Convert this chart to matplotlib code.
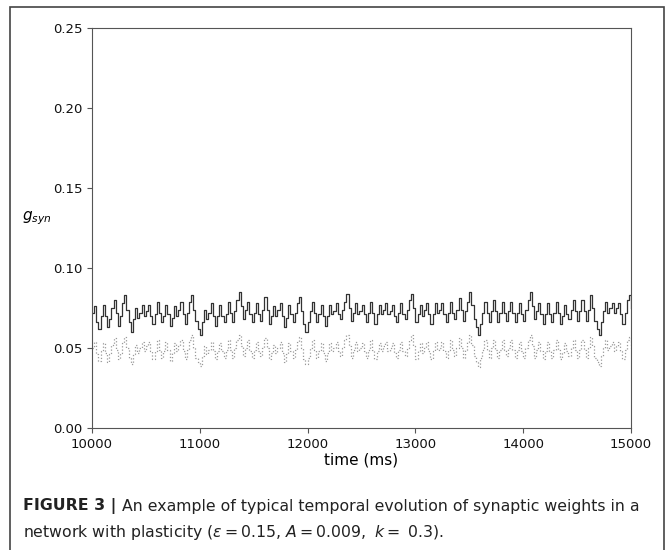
import numpy as np
import matplotlib
matplotlib.use("Agg")
import matplotlib.pyplot as plt
from matplotlib.patches import Rectangle

# sampled every 20 ms from 10000 to 15000 ms
t_start, t_step = 10000, 20

g_exc = [
    0.072, 0.076, 0.066, 0.062, 0.070, 0.077, 0.070, 0.063, 0.068, 0.075,
    0.080, 0.072, 0.064, 0.070, 0.078, 0.083, 0.074, 0.066, 0.060, 0.068,
    0.075, 0.069, 0.072, 0.077, 0.070, 0.073, 0.077, 0.070, 0.065, 0.071,
    0.079, 0.072, 0.066, 0.070, 0.077, 0.071, 0.064, 0.069, 0.076, 0.070,
    0.074, 0.079, 0.071, 0.065, 0.072, 0.079, 0.083, 0.074, 0.067, 0.062,
    0.058, 0.066, 0.074, 0.068, 0.072, 0.078, 0.070, 0.064, 0.070, 0.077,
    0.070, 0.066, 0.071, 0.079, 0.072, 0.066, 0.073, 0.080, 0.085, 0.076,
    0.068, 0.074, 0.079, 0.071, 0.066, 0.072, 0.078, 0.071, 0.067, 0.074,
    0.082, 0.074, 0.065, 0.070, 0.076, 0.070, 0.074, 0.078, 0.070, 0.063,
    0.069, 0.077, 0.071, 0.066, 0.072, 0.078, 0.082, 0.073, 0.065, 0.060,
    0.066, 0.073, 0.079, 0.072, 0.066, 0.071, 0.077, 0.070, 0.064, 0.070,
    0.077, 0.071, 0.073, 0.078, 0.071, 0.068, 0.074, 0.079, 0.084, 0.075,
    0.067, 0.072, 0.078, 0.071, 0.073, 0.077, 0.071, 0.066, 0.072, 0.079,
    0.072, 0.065, 0.071, 0.077, 0.071, 0.074, 0.078, 0.071, 0.073, 0.077,
    0.070, 0.066, 0.072, 0.078, 0.071, 0.068, 0.074, 0.080, 0.084, 0.075,
    0.066, 0.071, 0.077, 0.070, 0.074, 0.078, 0.071, 0.065, 0.071, 0.078,
    0.072, 0.074, 0.078, 0.071, 0.066, 0.072, 0.079, 0.072, 0.068, 0.074,
    0.081, 0.074, 0.067, 0.073, 0.079, 0.085, 0.077, 0.068, 0.063, 0.058,
    0.065, 0.072, 0.079, 0.072, 0.066, 0.073, 0.080, 0.073, 0.066, 0.072,
    0.079, 0.072, 0.067, 0.073, 0.079, 0.072, 0.066, 0.072, 0.078, 0.071,
    0.067, 0.074, 0.080, 0.085, 0.076, 0.068, 0.073, 0.078, 0.071, 0.065,
    0.071, 0.078, 0.071, 0.066, 0.072, 0.079, 0.072, 0.065, 0.070, 0.077,
    0.071, 0.068, 0.074, 0.080, 0.073, 0.067, 0.073, 0.080, 0.073, 0.067,
    0.074, 0.083, 0.075, 0.067, 0.062, 0.058, 0.066, 0.073, 0.079, 0.072,
    0.075, 0.078, 0.072, 0.075, 0.078, 0.071, 0.065, 0.072, 0.080, 0.083,
    0.075,
]

g_inh = [
    0.050, 0.054, 0.046, 0.042, 0.048, 0.053, 0.047, 0.041, 0.046, 0.052,
    0.056, 0.049, 0.043, 0.047, 0.053, 0.057, 0.050, 0.044, 0.040, 0.046,
    0.052, 0.047, 0.050, 0.054, 0.048, 0.051, 0.054, 0.048, 0.043, 0.048,
    0.055, 0.049, 0.044, 0.048, 0.054, 0.049, 0.042, 0.047, 0.053, 0.048,
    0.051, 0.055, 0.048, 0.043, 0.049, 0.055, 0.058, 0.050, 0.044, 0.041,
    0.039, 0.045, 0.051, 0.046, 0.049, 0.054, 0.048, 0.043, 0.048, 0.053,
    0.048, 0.044, 0.049, 0.055, 0.049, 0.044, 0.050, 0.055, 0.058, 0.051,
    0.045, 0.050, 0.055, 0.048, 0.044, 0.049, 0.054, 0.048, 0.045, 0.050,
    0.056, 0.050, 0.043, 0.047, 0.052, 0.047, 0.050, 0.054, 0.047, 0.041,
    0.046, 0.053, 0.048, 0.044, 0.049, 0.054, 0.057, 0.050, 0.043, 0.040,
    0.044, 0.050, 0.055, 0.049, 0.044, 0.048, 0.053, 0.047, 0.042, 0.047,
    0.053, 0.048, 0.050, 0.054, 0.048, 0.045, 0.050, 0.055, 0.058, 0.051,
    0.044, 0.049, 0.054, 0.048, 0.050, 0.053, 0.048, 0.044, 0.049, 0.055,
    0.049, 0.043, 0.048, 0.053, 0.048, 0.051, 0.054, 0.048, 0.050, 0.053,
    0.047, 0.044, 0.049, 0.054, 0.048, 0.045, 0.050, 0.055, 0.058, 0.051,
    0.043, 0.048, 0.053, 0.047, 0.050, 0.054, 0.048, 0.043, 0.048, 0.054,
    0.049, 0.050, 0.054, 0.048, 0.044, 0.049, 0.055, 0.049, 0.045, 0.050,
    0.056, 0.050, 0.044, 0.049, 0.054, 0.058, 0.052, 0.045, 0.041, 0.038,
    0.044, 0.049, 0.055, 0.049, 0.044, 0.050, 0.055, 0.049, 0.044, 0.049,
    0.055, 0.049, 0.045, 0.050, 0.055, 0.049, 0.044, 0.049, 0.054, 0.048,
    0.044, 0.050, 0.055, 0.058, 0.051, 0.044, 0.049, 0.054, 0.048, 0.043,
    0.048, 0.054, 0.048, 0.044, 0.049, 0.055, 0.049, 0.043, 0.047, 0.053,
    0.048, 0.045, 0.050, 0.055, 0.049, 0.044, 0.049, 0.055, 0.049, 0.044,
    0.050, 0.057, 0.051, 0.044, 0.041, 0.039, 0.045, 0.050, 0.055, 0.049,
    0.051, 0.054, 0.048, 0.051, 0.054, 0.048, 0.043, 0.049, 0.055, 0.057,
    0.050,
]

x_ticks = [10000, 11000, 12000, 13000, 14000, 15000]
y_ticks = [0.00, 0.05, 0.10, 0.15, 0.20, 0.25]

cap_bold = "FIGURE 3 |"
cap_line1 = "An example of typical temporal evolution of synaptic weights in a"
cap_line2 = r"network with plasticity ($\varepsilon = 0.15$, $A = 0.009,\ k =\ 0.3$)."

t = t_start + t_step * np.arange(len(g_exc))

W, H = 666, 550
fig = plt.figure(figsize=(W / 100, H / 100), dpi=100)
ax = fig.add_axes([92 / W, 1 - 428 / H, 539 / W, 400 / H])

ax.plot(t, g_exc, drawstyle="steps-post", color="#333333", lw=0.9)
ax.plot(t, g_inh, drawstyle="steps-post", color="#999999", lw=0.9, ls=":")

ax.set_xlim(10000, 15000)
ax.set_ylim(0, 0.25)
ax.set_xticks(x_ticks)
ax.set_yticks(y_ticks)
ax.set_yticklabels([f"{v:.2f}" for v in y_ticks])
ax.tick_params(labelsize=9.5, colors="#555555", labelcolor="#111111")
for s in ax.spines.values():
    s.set_color("#555555")
ax.set_xlabel("time (ms)", fontsize=11, labelpad=1)
fig.text(37 / W, 1 - 218 / H, r"$g_{syn}$", fontsize=11,
         ha="center", va="center")

# frame around figure + caption
fig.add_artist(Rectangle((10 / W, -0.05), 654 / W, 1.05 - 7 / H,
                         transform=fig.transFigure, fill=False,
                         edgecolor="#444444", lw=1.2, clip_on=False))

# caption: size fitted so the first line spans x=23..642 px
fs = 11
cap_kw = dict(family="DejaVu Sans", color="#222222", va="center")
r = fig.canvas.get_renderer()
tb = fig.text(23 / W, 1 - 506 / H, cap_bold + " ", fontsize=fs, weight="bold", **cap_kw)
t1 = fig.text(0, 1 - 506 / H, cap_line1, fontsize=fs, **cap_kw)
w_total = tb.get_window_extent(r).width + t1.get_window_extent(r).width
fs = fs * 619 / w_total
tb.set_fontsize(fs)
t1.set_fontsize(fs)
wb = tb.get_window_extent(r).width
t1.set_x((23 + wb) / W)
fig.text(23 / W, 1 - 532 / H, cap_line2, fontsize=fs, **cap_kw)

fig.savefig("out.png", dpi=100)
